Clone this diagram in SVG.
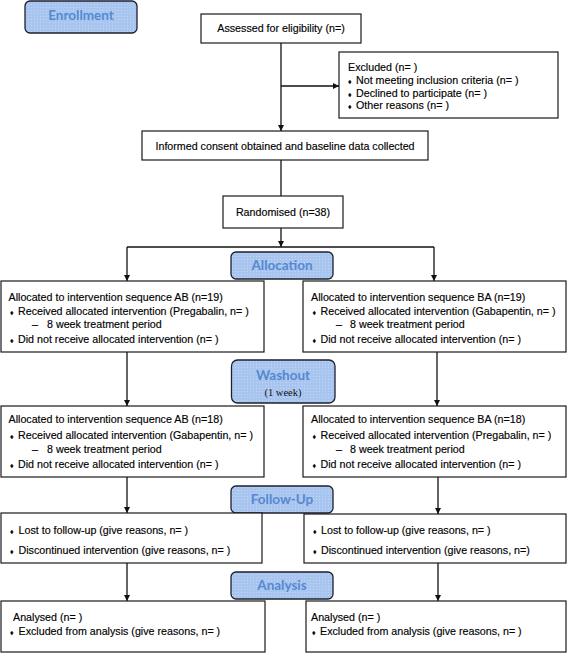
<svg xmlns="http://www.w3.org/2000/svg" width="568" height="653" viewBox="0 0 568 653">
<style>
.box{fill:#fff;stroke:#1a1a1a;stroke-width:1.2}
.lbl{fill:url(#dots);stroke:#1c1f2e;stroke-width:1.3}
.lt{font-family:Lato,"Liberation Sans",sans-serif;font-weight:bold;font-size:13.5px;fill:#5588d2;text-anchor:middle}
.t{font-family:"Liberation Sans",Arial,sans-serif;font-size:10.7px;fill:#000;stroke:#000;stroke-width:0.15}
.c{text-anchor:middle}
.b{font-size:7px}
.ln{stroke:#111;stroke-width:1.3;fill:none}
.ar{stroke:#111;stroke-width:1.3;fill:none;marker-end:url(#ah)}
</style>
<defs>
<pattern id="dots" width="3" height="3" patternUnits="userSpaceOnUse">
<rect width="3" height="3" fill="#a8c5ef"/>
<rect x="1" y="1" width="1" height="1" fill="#c3d7f5"/>
</pattern>
<marker id="ah" viewBox="0 0 10 10" refX="10" refY="5" markerWidth="6.5" markerHeight="6" orient="auto" markerUnits="userSpaceOnUse">
<path d="M0,0 L10,5 L0,10 z" fill="#111"/>
</marker>
</defs>
<rect width="568" height="653" fill="#fff"/>

<g id="connectors">
<line class="ar" x1="281" y1="43" x2="281" y2="131"/>
<line class="ar" x1="281" y1="86" x2="339" y2="86"/>
<line class="ln" x1="281" y1="160" x2="281" y2="196"/>
<line class="ar" x1="281" y1="228" x2="281" y2="247"/>
<polyline class="ln" points="127,247 434,247"/>
<line class="ar" x1="127" y1="247" x2="127" y2="281"/>
<line class="ar" x1="434" y1="247" x2="434" y2="281"/>
<line class="ar" x1="127" y1="352" x2="127" y2="406"/>
<line class="ar" x1="437" y1="352" x2="437" y2="406"/>
<line class="ar" x1="127" y1="477" x2="127" y2="513"/>
<line class="ar" x1="438" y1="477" x2="438" y2="514"/>
<line class="ar" x1="127" y1="563" x2="127" y2="601"/>
<line class="ar" x1="438" y1="563" x2="438" y2="601"/>
</g>

<g id="enrollment">
<rect class="lbl" x="25" y="1" width="112" height="32" rx="5"/>
<text class="lt" x="81" y="20">Enrollment</text>
</g>

<g id="assessed">
<rect class="box" x="201" y="14" width="160" height="29"/>
<text class="t c" x="281" y="32">Assessed for eligibility (n=)</text>
</g>

<g id="excluded">
<rect class="box" x="339" y="52" width="219" height="66"/>
<text class="t" x="348" y="71">Excluded (n= )</text>
<text class="t" x="348" y="84"><tspan class="b">♦</tspan><tspan x="356">Not meeting inclusion criteria (n= )</tspan></text>
<text class="t" x="348" y="97"><tspan class="b">♦</tspan><tspan x="356">Declined to participate (n= )</tspan></text>
<text class="t" x="348" y="109"><tspan class="b">♦</tspan><tspan x="356">Other reasons (n= )</tspan></text>
</g>

<g id="consent">
<rect class="box" x="142" y="131" width="286" height="29"/>
<text class="t c" x="285" y="149.5">Informed consent obtained and baseline data collected</text>
</g>

<g id="randomised">
<rect class="box" x="223" y="196" width="120" height="32"/>
<text class="t c" x="283" y="216">Randomised (n=38)</text>
</g>

<g id="allocation-label">
<rect class="lbl" x="231" y="252" width="102" height="27" rx="5"/>
<text class="lt" x="282" y="270">Allocation</text>
</g>

<g id="alloc-ab">
<rect class="box" x="1" y="281" width="263" height="71"/>
<text class="t" x="8.5" y="300.5">Allocated to intervention sequence AB (n=19)</text>
<text class="t" x="10" y="314.5"><tspan class="b">♦</tspan><tspan x="18">Received allocated intervention (Pregabalin, n= )</tspan></text>
<text class="t" x="32" y="328">–<tspan x="47">8 week treatment period</tspan></text>
<text class="t" x="10" y="343"><tspan class="b">♦</tspan><tspan x="18">Did not receive allocated intervention (n= )</tspan></text>
</g>

<g id="alloc-ba">
<rect class="box" x="303" y="281" width="263" height="71"/>
<text class="t" x="311" y="300.5">Allocated to intervention sequence BA (n=19)</text>
<text class="t" x="312.5" y="314.5"><tspan class="b">♦</tspan><tspan x="320.5">Received allocated intervention (Gabapentin, n= )</tspan></text>
<text class="t" x="336" y="328">–<tspan x="350">8 week treatment period</tspan></text>
<text class="t" x="312.5" y="343"><tspan class="b">♦</tspan><tspan x="320.5">Did not receive allocated intervention (n= )</tspan></text>
</g>

<g id="washout-label">
<rect class="lbl" x="231.5" y="360" width="103.5" height="43" rx="6"/>
<text class="lt" x="283" y="380">Washout</text>
<text x="283" y="396" font-family="'Liberation Serif',serif" font-size="10.5" fill="#111" text-anchor="middle">(1 week)</text>
</g>

<g id="seq-ab">
<rect class="box" x="1" y="406" width="263" height="71"/>
<text class="t" x="8.5" y="423">Allocated to intervention sequence AB (n=18)</text>
<text class="t" x="10" y="438.5"><tspan class="b">♦</tspan><tspan x="18">Received allocated intervention (Gabapentin, n= )</tspan></text>
<text class="t" x="32" y="452.5">–<tspan x="47">8 week treatment period</tspan></text>
<text class="t" x="10" y="468"><tspan class="b">♦</tspan><tspan x="18">Did not receive allocated intervention (n= )</tspan></text>
</g>

<g id="seq-ba">
<rect class="box" x="303" y="406" width="263" height="71"/>
<text class="t" x="311" y="423">Allocated to intervention sequence BA (n=18)</text>
<text class="t" x="312.5" y="438.5"><tspan class="b">♦</tspan><tspan x="320.5">Received allocated intervention (Pregabalin, n= )</tspan></text>
<text class="t" x="336" y="452.5">–<tspan x="350">8 week treatment period</tspan></text>
<text class="t" x="312.5" y="468"><tspan class="b">♦</tspan><tspan x="320.5">Did not receive allocated intervention (n= )</tspan></text>
</g>

<g id="followup-label">
<rect class="lbl" x="231" y="486" width="102" height="27" rx="5"/>
<text class="lt" x="282" y="504">Follow-Up</text>
</g>

<g id="followup-ab">
<rect class="box" x="1" y="513" width="261" height="50"/>
<text class="t" x="10" y="534"><tspan class="b">♦</tspan><tspan x="18.5">Lost to follow-up (give reasons, n=  )</tspan></text>
<text class="t" x="10" y="554"><tspan class="b">♦</tspan><tspan x="18.5">Discontinued intervention (give reasons, n=  )</tspan></text>
</g>

<g id="followup-ba">
<rect class="box" x="304" y="514" width="262" height="49"/>
<text class="t" x="313" y="534"><tspan class="b">♦</tspan><tspan x="321">Lost to follow-up (give reasons, n=  )</tspan></text>
<text class="t" x="313" y="554"><tspan class="b">♦</tspan><tspan x="321">Discontinued intervention (give reasons, n=)</tspan></text>
</g>

<g id="analysis-label">
<rect class="lbl" x="231" y="572" width="102" height="27" rx="5"/>
<text class="lt" x="282" y="590">Analysis</text>
</g>

<g id="analysis-ab">
<rect class="box" x="1" y="601" width="264" height="51"/>
<text class="t" x="13" y="621">Analysed (n=  )</text>
<text class="t" x="10" y="635"><tspan class="b">♦</tspan><tspan x="18.5">Excluded from analysis (give reasons, n=  )</tspan></text>
</g>

<g id="analysis-ba">
<rect class="box" x="306" y="601" width="260" height="51"/>
<text class="t" x="311" y="621">Analysed (n=  )</text>
<text class="t" x="312" y="635"><tspan class="b">♦</tspan><tspan x="320">Excluded from analysis (give reasons, n=  )</tspan></text>
</g>
</svg>
